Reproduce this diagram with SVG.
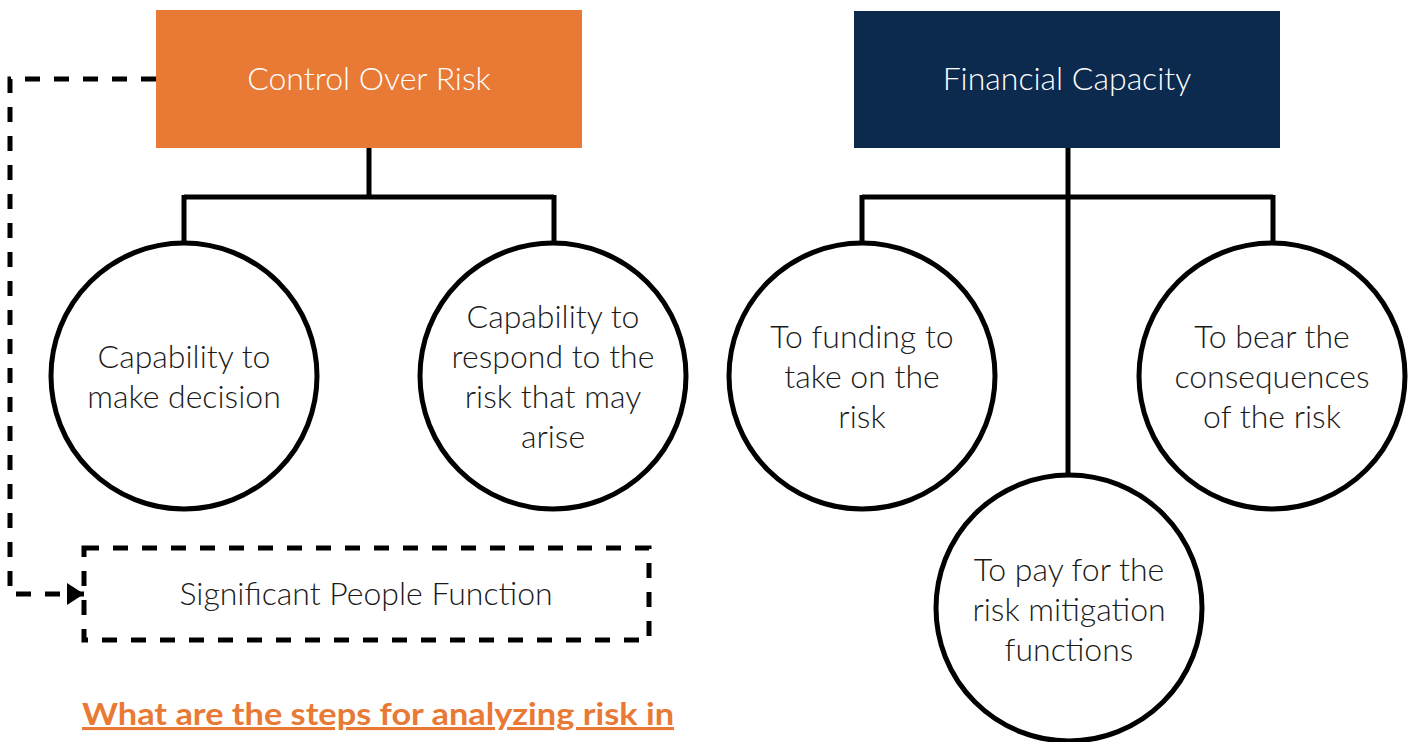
<svg xmlns="http://www.w3.org/2000/svg" width="1415" height="742" viewBox="0 0 1415 742">
<defs>
<style>
.t{font-family:Lato,"Helvetica Neue","Liberation Sans",sans-serif;font-weight:300;font-size:32px;fill:#1a1a1a;text-anchor:middle}
.h{font-family:Lato,"Helvetica Neue","Liberation Sans",sans-serif;font-weight:300;font-size:32px;fill:#ffffff;text-anchor:middle}
.c{fill:#ffffff;stroke:#000;stroke-width:5}
.l{fill:none;stroke:#000;stroke-width:5}
.d{fill:none;stroke:#000;stroke-width:5;stroke-dasharray:15 14}
.q{font-family:Lato,"Liberation Sans",sans-serif;font-weight:700;font-size:31px;fill:#E87A35;text-decoration:underline}
</style>
<marker id="arr" markerWidth="17" markerHeight="22" refX="17" refY="11" orient="auto" markerUnits="userSpaceOnUse">
<path d="M0,0 L17,11 L0,22 Z" fill="#000"/>
</marker>
</defs>
<rect width="1415" height="742" fill="#ffffff"/>
<g id="connectors">
<path class="l" d="M369,148 V197 M184,197 H554 M184,195 V242 M554,195 V242"/>
<path class="l" d="M1068,148 V474 M862,197 H1273 M862,195 V242 M1273,195 V242"/>
<path class="d" d="M156,79 H10 V594 H84" marker-end="url(#arr)"/>
</g>
<g id="control-over-risk">
<rect x="156" y="10" width="426" height="138" fill="#E87A35"/>
<text class="h" x="369" y="90">Control Over Risk</text>
</g>
<g id="financial-capacity">
<rect x="854" y="11" width="426" height="137" fill="#0B2A4E"/>
<text class="h" x="1067" y="90">Financial Capacity</text>
</g>
<g id="capability-decision">
<circle class="c" cx="184" cy="376" r="133"/>
<text class="t" x="184" y="368">Capability to</text>
<text class="t" x="184" y="408">make decision</text>
</g>
<g id="capability-respond">
<circle class="c" cx="553" cy="376" r="133"/>
<text class="t" x="553" y="328">Capability to</text>
<text class="t" x="553" y="368">respond to the</text>
<text class="t" x="553" y="408">risk that may</text>
<text class="t" x="553" y="448">arise</text>
</g>
<g id="to-funding">
<circle class="c" cx="862" cy="376" r="133"/>
<text class="t" x="862" y="348">To funding to</text>
<text class="t" x="862" y="388">take on the</text>
<text class="t" x="862" y="428">risk</text>
</g>
<g id="to-bear">
<circle class="c" cx="1272" cy="376" r="133"/>
<text class="t" x="1272" y="348">To bear the</text>
<text class="t" x="1272" y="388">consequences</text>
<text class="t" x="1272" y="428">of the risk</text>
</g>
<g id="to-pay">
<circle class="c" cx="1069" cy="608" r="133"/>
<text class="t" x="1069" y="581">To pay for the</text>
<text class="t" x="1069" y="621">risk mitigation</text>
<text class="t" x="1069" y="661">functions</text>
</g>
<g id="significant-people-function">
<rect class="d" x="84" y="548" width="565" height="92"/>
<text class="t" x="366" y="605">Significant People Function</text>
</g>
<text class="q" x="82" y="725" textLength="592" lengthAdjust="spacingAndGlyphs">What are the steps for analyzing risk in</text>
</svg>
